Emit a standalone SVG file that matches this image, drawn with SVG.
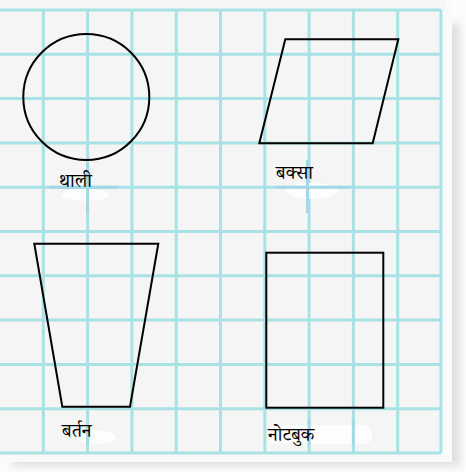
<svg xmlns="http://www.w3.org/2000/svg" width="466" height="472" viewBox="0 0 466 472">
  <defs>
    <filter id="blur" x="-10%" y="-10%" width="120%" height="120%">
      <feGaussianBlur stdDeviation="4"/>
    </filter>
  </defs>
  <style>
    .grid { stroke: #a8e2e4; stroke-width: 3; fill: none; }
    .hl { stroke: #a2d8e8; stroke-width: 3; fill: none; }
    .shape { stroke: #000; stroke-width: 2; fill: none; stroke-linejoin: miter; }
    .lbl { font-family: "Noto Serif Devanagari", "Noto Sans Devanagari", Mangal, "Noto Sans", "DejaVu Sans", sans-serif; font-size: 19px; fill: #000; }
    .patch { fill: #ffffff; opacity: 0.75; }
  </style>
  <rect x="0" y="0" width="466" height="472" fill="#fcfcfc"/>
  <rect x="12" y="24" width="448" height="442" fill="#dedede" filter="url(#blur)"/>
  <rect x="0" y="0" width="452" height="462" fill="#fafafa"/>
  <rect x="0" y="0" width="445" height="10" fill="#f6f6f6"/>
  <rect x="0" y="10" width="441" height="443" fill="#f5f5f5"/>
  <g id="grid">
    <path class="grid" d="M0 10H441 M0 54.3H441 M0 98.6H441 M0 142.9H441 M0 187.2H441 M0 231.5H441 M0 275.8H441 M0 320.1H441 M0 364.4H441 M0 408.7H441 M0 453H441"/>
    <path class="grid" d="M43.3 10V453 M87.6 10V453 M131.9 10V453 M176.2 10V453 M220.5 10V453 M264.8 10V453 M309.1 10V453 M353.4 10V453 M397.7 10V453 M441 10V453"/>
  </g>
  <g id="artifacts">
    <ellipse class="patch" cx="85" cy="195" rx="24" ry="6"/>
    <path class="hl" d="M49 187.2H118 M87.6 163V213"/>
    <ellipse class="patch" cx="312" cy="191" rx="26" ry="8"/>
    <path class="hl" d="M276 187.2H351 M307.5 160V213"/>
    <ellipse class="patch" cx="96" cy="437" rx="20" ry="7"/>
    <path class="hl" d="M87.6 429V445"/>
    <rect class="patch" x="268" y="425" width="104" height="19" rx="8"/>
    <path class="hl" d="M309.1 419V445 M353.4 419V445"/>
  </g>
  <g id="connectors"/>
  <g id="thali">
    <circle class="shape" cx="86.3" cy="97" r="63"/>
    <text class="lbl" x="59" y="187">थाली</text>
  </g>
  <g id="baksa">
    <polygon class="shape" points="285.3,39.3 398.3,39.3 372.7,143.3 259.3,143.3"/>
    <text class="lbl" x="276" y="179">बक्सा</text>
  </g>
  <g id="bartan">
    <polygon class="shape" points="34.3,243.7 158.3,243.7 130,406.7 62.3,406.7"/>
    <text class="lbl" x="62" y="437">बर्तन</text>
  </g>
  <g id="notebook">
    <rect class="shape" x="266.3" y="252.7" width="117" height="155"/>
    <text class="lbl" x="268" y="441">नोटबुक</text>
  </g>
</svg>
